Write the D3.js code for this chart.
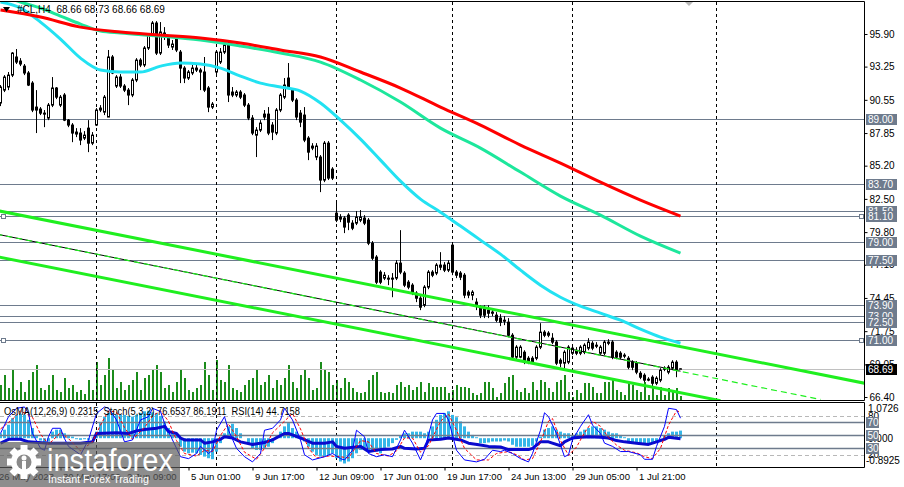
<!DOCTYPE html>
<html>
<head>
<meta charset="utf-8">
<script src="https://cdn.jsdelivr.net/npm/d3@7"></script>
<style>
  body { margin: 0; background: #fff; }
  svg { display: block; font-family: 'Liberation Sans', Arial, sans-serif; }
</style>
</head>
<body>
<svg id="chart" width="904" height="487"></svg>
<script>
// ---- price bars (#CL, H4) ----
const opens = [
  90.29, 91.34, 91.59, 92.56, 94.03, 93.70, 93.29, 92.73, 91.91, 89.96,
  89.80, 89.47, 89.07, 90.12, 91.51, 90.12, 90.94, 88.90, 88.50, 87.77,
  87.85, 87.44, 88.25, 87.03, 88.50, 89.88, 89.55, 89.15, 94.03, 91.67,
  92.40, 91.67, 91.34, 90.94, 92.16, 93.78, 93.38, 94.76, 95.81, 96.79,
  94.35, 95.98, 95.57, 94.84, 95.57, 94.43, 93.13, 92.32, 92.73, 93.13,
  92.97, 92.81, 91.51, 89.96, 92.81, 93.62, 94.43, 95.00, 91.18, 90.94,
  91.18, 90.94, 90.12, 89.07, 87.68, 88.09, 89.39, 89.39, 88.50, 87.85,
  89.72, 90.77, 92.32, 91.34, 90.53, 89.47, 89.31, 87.44, 86.79, 85.90,
  85.90, 84.03, 87.03, 84.92, 81.34, 81.02, 80.94, 81.18, 80.53, 80.53,
  80.77, 80.94, 80.77, 78.90, 77.77, 76.55, 76.06, 76.06, 76.06, 76.06,
  77.28, 76.47, 75.73, 75.49, 74.84, 74.43, 73.86, 75.33, 76.55, 76.47,
  77.12, 77.12, 76.71, 78.74, 76.55, 76.47, 76.30, 74.92, 74.68, 74.11,
  73.62, 73.62, 73.46, 73.30, 73.05, 72.81, 72.64, 72.48, 71.42, 69.64,
  69.64, 70.04, 69.55, 69.55, 69.55, 70.45, 71.67, 71.42, 71.18, 70.86,
  69.39, 69.15, 69.23, 69.96, 70.20, 69.96, 70.04, 70.37, 70.77, 70.61,
  69.96, 69.96, 70.86, 70.86, 70.04, 69.96, 69.80, 69.55, 69.23, 69.15,
  68.33, 68.17, 67.85, 68.01, 67.52, 67.77, 68.74, 68.42, 68.74, 69.23,
  68.66
];
const highs = [
  91.75, 92.56, 92.81, 94.43, 94.68, 93.94, 93.46, 92.89, 92.07, 91.34,
  89.96, 89.72, 90.29, 92.40, 91.59, 90.94, 91.10, 88.99, 88.66, 88.25,
  88.25, 88.01, 88.90, 87.93, 89.88, 90.12, 90.94, 94.60, 94.19, 92.56,
  92.64, 91.83, 91.51, 92.32, 93.94, 93.94, 94.92, 95.98, 96.95, 96.95,
  96.87, 96.46, 95.81, 95.41, 95.73, 94.60, 93.29, 92.97, 93.38, 93.38,
  93.13, 94.03, 91.67, 90.37, 94.60, 94.76, 95.41, 95.25, 91.59, 91.34,
  91.34, 91.10, 90.29, 89.31, 88.33, 88.90, 89.72, 89.96, 88.74, 89.88,
  91.10, 92.32, 93.54, 91.51, 90.69, 89.72, 89.96, 87.60, 87.03, 87.03,
  86.06, 87.20, 87.20, 85.08, 82.40, 81.26, 81.10, 81.34, 80.77, 81.51,
  81.59, 81.18, 80.94, 79.07, 77.93, 76.71, 76.55, 76.30, 76.47, 77.52,
  79.96, 76.63, 75.90, 75.65, 75.00, 74.60, 75.49, 76.71, 76.71, 77.28,
  78.17, 77.36, 77.52, 78.90, 76.71, 76.63, 76.47, 75.08, 75.08, 74.43,
  73.86, 73.86, 73.86, 73.62, 73.30, 73.13, 72.97, 72.81, 71.59, 70.61,
  70.61, 70.20, 69.72, 69.72, 70.61, 72.40, 71.83, 71.75, 71.59, 71.02,
  69.55, 70.20, 70.61, 70.53, 70.45, 70.61, 70.77, 71.18, 70.94, 70.86,
  70.61, 71.02, 71.10, 71.02, 70.20, 70.12, 69.96, 69.72, 69.39, 69.31,
  68.50, 68.33, 68.01, 68.17, 68.09, 68.74, 68.90, 68.99, 69.39, 69.39,
  68.73
];
const lows = [
  90.04, 91.18, 91.34, 92.40, 93.46, 93.29, 92.56, 91.67, 89.55, 87.85,
  89.31, 88.33, 88.90, 89.96, 90.61, 89.96, 88.82, 88.33, 87.11, 87.52,
  86.87, 87.28, 86.30, 86.87, 88.42, 89.55, 89.31, 89.15, 92.64, 91.51,
  91.51, 91.18, 90.12, 90.77, 91.99, 93.21, 93.21, 94.60, 95.65, 94.19,
  94.19, 95.41, 94.76, 94.60, 94.43, 91.91, 91.91, 92.16, 92.56, 92.81,
  91.34, 91.18, 89.55, 89.80, 92.64, 93.46, 94.27, 90.37, 90.77, 90.77,
  90.61, 89.96, 88.90, 87.68, 85.90, 87.93, 88.90, 87.68, 87.28, 87.68,
  89.55, 90.61, 91.42, 90.37, 88.90, 88.33, 87.11, 85.65, 86.46, 85.65,
  83.05, 83.86, 84.03, 84.03, 80.61, 80.61, 79.72, 79.96, 79.96, 80.37,
  80.61, 80.37, 78.74, 77.52, 75.57, 75.57, 75.90, 75.49, 74.51, 75.90,
  76.38, 75.33, 75.16, 74.68, 74.11, 73.46, 73.70, 75.16, 76.14, 76.30,
  76.71, 76.55, 76.55, 76.30, 76.06, 75.90, 74.43, 74.43, 74.27, 73.46,
  72.81, 72.81, 72.81, 72.97, 72.48, 72.16, 72.24, 71.26, 69.55, 69.39,
  69.55, 69.07, 69.07, 69.15, 69.39, 70.29, 71.26, 71.26, 70.69, 68.99,
  68.82, 68.74, 69.07, 69.80, 69.80, 69.80, 69.88, 70.20, 70.20, 70.37,
  69.80, 69.80, 70.61, 69.47, 69.47, 69.47, 69.55, 68.66, 68.58, 68.25,
  67.85, 67.60, 67.68, 67.28, 67.36, 67.60, 68.50, 68.25, 68.58, 68.01,
  68.66
];
const closes = [
  91.59, 92.40, 92.56, 94.35, 93.62, 93.46, 92.73, 91.75, 89.72, 89.72,
  89.47, 89.39, 90.12, 91.51, 90.77, 90.77, 88.90, 88.50, 87.85, 87.93,
  87.28, 87.68, 87.03, 87.68, 89.72, 89.72, 90.77, 94.03, 92.73, 92.40,
  91.67, 91.34, 90.94, 92.16, 93.78, 93.38, 94.76, 95.81, 96.79, 94.35,
  96.06, 95.81, 95.00, 95.08, 94.60, 93.13, 92.32, 92.81, 93.13, 92.97,
  92.81, 91.34, 89.96, 90.20, 94.43, 94.43, 95.00, 90.94, 90.94, 91.18,
  90.77, 90.12, 89.07, 87.85, 88.09, 88.66, 89.15, 87.85, 87.93, 89.72,
  90.94, 91.75, 91.59, 90.53, 89.15, 88.74, 87.28, 86.30, 86.63, 86.79,
  84.03, 87.03, 84.19, 84.19, 80.77, 80.86, 80.21, 80.61, 80.12, 81.02,
  81.02, 80.53, 78.90, 77.68, 75.73, 75.73, 76.30, 75.98, 75.98, 77.28,
  76.55, 75.49, 75.33, 74.84, 74.43, 73.70, 75.33, 76.55, 76.30, 77.12,
  76.95, 76.71, 77.28, 76.55, 76.30, 76.14, 74.68, 74.68, 74.92, 73.86,
  73.05, 73.05, 73.21, 73.21, 72.64, 72.48, 72.56, 71.42, 69.64, 70.45,
  70.45, 69.23, 69.23, 69.23, 70.45, 71.67, 71.42, 71.59, 70.86, 69.15,
  69.15, 70.04, 70.45, 70.37, 69.96, 70.45, 70.61, 70.86, 70.37, 70.53,
  70.45, 70.86, 70.77, 69.64, 69.64, 69.64, 69.72, 68.82, 68.82, 68.42,
  68.01, 67.77, 67.77, 67.52, 67.93, 68.58, 68.66, 68.82, 69.23, 68.58,
  68.69
];
// tick volumes (hundreds)
const volumes = [
  1500, 2500, 1200, 3000, 1000, 1800, 800, 2000, 2800, 3500, 1200, 1000, 1500, 2500, 1000, 800, 2200, 1200, 1500, 800,
  1000, 600, 2000, 1000, 3800, 1500, 2500, 4200, 3000, 1200, 1800, 1000, 1500, 2000, 2800, 1000, 2200, 2500, 3000, 3500,
  2800, 1200, 1500, 800, 1800, 3000, 2200, 1000, 800, 1200, 1500, 3800, 2500, 1000, 4000, 2000, 1800, 3500, 1200, 1000,
  800, 1500, 2000, 2200, 3000, 1500, 1800, 2500, 1200, 2000, 1500, 2200, 3500, 1800, 1200, 2500, 3000, 2200, 1000, 1200,
  3800, 3000, 2800, 1500,
  2000, 1200, 2200, 1800, 1200, 800, 700, 800, 2000, 2500, 2800, 800, 700, 800, 700, 1500, 1800, 1300, 1500, 1000,
  1300, 1800, 800, 1700, 1300, 1300, 1300, 1300, 700, 1000, 1500, 1300, 1300, 1200, 700, 500, 700, 1800, 1800, 1200,
  300, 700, 1700, 2300, 2500, 1000, 800, 1200, 700, 1800, 1000, 2000, 1800, 1200, 800, 1800, 2000, 2500, 800, 300,
  1000, 700, 1700, 1700, 1300, 700, 700, 1800, 1800, 2000, 1000, 800, 500, 1700, 1500, 1000, 800, 1800, 500, 1200,
  500, 1300, 500, 1200, 800, 1200, 400
];

// ---- moving averages (sampled points: bar index, price) ----
const maRedIdx = [0, 10, 20, 30, 40, 50, 60, 70, 80, 90, 100, 110, 120, 130, 140, 150, 160, 170];
const maRed = [97.85, 97.28, 96.46, 96.06, 95.81, 95.57, 95.16, 94.60, 94.03, 92.81, 91.51, 89.96, 88.50, 86.87, 85.41, 83.86, 82.40, 81.10];
const maGreenIdx = [0, 5, 10, 15, 20, 25, 30, 40, 50, 60, 70, 80, 90, 100, 110, 120, 130, 140, 150, 160, 170];
const maGreen = [99.07, 98.50, 98.01, 97.36, 96.71, 96.14, 95.98, 95.73, 95.41, 94.92, 94.35, 93.62, 92.16, 90.37, 88.25, 86.63, 84.68, 82.73, 81.18, 79.47, 78.09];
const maAquaIdx = [0, 5, 10, 15, 20, 25, 30, 35, 40, 45, 50, 55, 60, 65, 70, 75, 80, 85, 90, 95, 100, 105, 110, 115, 120, 125, 130, 135, 140, 145, 150, 155, 160, 165, 170];
const maAqua = [98.50, 98.01, 96.87, 95.49, 93.94, 92.97, 92.81, 92.81, 93.29, 93.54, 93.46, 93.13, 92.48, 91.91, 91.59, 91.26, 90.29, 88.90, 87.36, 85.65, 83.94, 82.48, 81.42, 80.29, 79.15, 78.01, 76.71, 75.49, 74.51, 73.78, 73.21, 72.64, 71.91, 71.26, 70.77];

// ---- channel (bar index, price) ----
const chUpperIdx = [-1, 216], chUpper = [81.56, 67.52];
const chLowerIdx = [-1, 180], chLower = [77.82, 66.10];
const chMidIdx = [-1, 205], chMid = [79.64, 66.20];
const chMidSolidIdx = [-1, 170], chMidSolid = [79.64, 68.50];

// ---- horizontal levels, axis ----
const levels = [89.00, 83.70, 81.50, 81.10, 79.00, 77.50, 73.90, 73.00, 72.50, 71.00];
const markedLevels = [81.10, 71.00];
const lastPrice = 68.69;
const priceTicks = [95.90, 93.25, 90.55, 87.85, 85.20, 82.50, 79.80, 77.15, 74.45, 71.75, 69.05, 66.40];
const separators = [24, 54, 84, 113, 143, 179];
const timeIdx = [-1, 15, 31, 47, 63, 79, 95, 111, 127, 143, 159];
const timeLabels = ['26 May 2023', '30 May 17:00', '2 Jun 09:00', '5 Jun 01:00', '9 Jun 17:00', '12 Jun 09:00',
  '17 Jun 01:00', '19 Jun 17:00', '24 Jun 13:00', '29 Jun 05:00', '1 Jul 21:00'];

// ---- indicator window ----
const osma = [
  0.15, 0.26, 0.41, 0.61, 0.71, 0.74, 0.71, 0.56, 0.31, 0.10, -0.07, -0.15, -0.10, 0.20, 0.26, 0.26, 0.15, 0.10, 0.05, -0.03,
  -0.05, -0.03, -0.05, 0.02, 0.20, 0.46, 0.66, 0.77, 0.77, 0.71, 0.71, 0.71, 0.68, 0.66, 0.71, 0.77, 0.82, 0.84, 0.79, 0.77,
  0.68, 0.51, 0.31, 0.20, 0.10, -0.26, -0.41, -0.46, -0.44, -0.46, -0.51, -0.56, -0.61, -0.64, -0.41, -0.15, 0.15, 0.36, 0.44, 0.31,
  0.15, 0.00, -0.15, -0.31, -0.36, -0.36, -0.31, -0.26, -0.15, 0.05, 0.20, 0.36, 0.46, 0.31, 0.20, 0.05, -0.10, -0.26, -0.41, -0.51,
  -0.56, -0.56, -0.51, -0.46, -0.61, -0.71, -0.77, -0.71, -0.61, -0.46, -0.36, -0.31, -0.36, -0.36, -0.41, -0.46, -0.36, -0.26, -0.15, -0.05,
  0.07, 0.15, 0.15, 0.20, 0.20, 0.20, 0.15, 0.20, 0.36, 0.56, 0.71, 0.77, 0.82, 0.71, 0.64, 0.51, 0.36, 0.20, 0.10, 0.03,
  -0.15, -0.15, -0.13, -0.10, -0.10, -0.10, -0.07, -0.10, -0.20, -0.26, -0.26, -0.26, -0.26, -0.23, -0.10, 0.05, 0.26, 0.31, 0.36, 0.26,
  0.20, 0.15, 0.15, 0.10, 0.15, 0.20, 0.26, 0.31, 0.36, 0.36, 0.31, 0.26, 0.20, 0.15, 0.15, 0.10, 0.03, -0.15, -0.15, -0.15,
  -0.15, -0.15, -0.15, -0.15, -0.10, 0.01, 0.07, 0.15, 0.20, 0.20, 0.2315
];
const stochIdx = [0, 2, 4, 6, 7, 8, 10, 11, 12, 13, 15, 16, 17, 20, 22, 24, 26, 27, 29, 31, 33, 35, 37, 38, 40, 41, 43, 45, 47, 49,
  50, 52, 53, 54, 56, 57, 59, 61, 63, 65, 66, 68, 70, 71, 73, 75, 76, 78, 81, 83, 85, 86, 88, 89, 91, 92, 94, 96, 98, 100,
  101, 103, 105, 106, 108, 109, 111, 112, 114, 116, 119, 121, 123, 125, 126, 128, 130, 132, 133, 135, 136, 137, 139, 141, 142, 143, 145, 147, 148, 150,
  151, 153, 155, 157, 160, 161, 163, 164, 166, 167, 169, 170];
const stochMain = [53, 79, 92, 94, 84, 53, 30, 27, 48, 61, 61, 45, 33, 20, 43, 84, 94, 92, 74, 40, 43, 74, 79, 92, 87, 69, 43, 17, 14, 22,
  33, 22, 27, 58, 79, 58, 30, 17, 9, 22, 58, 61, 74, 92, 74, 43, 20, 12, 17, 22, 14, 12, 27, 58, 48, 22, 17, 20, 17, 43,
  58, 38, 12, 27, 74, 84, 84, 74, 27, 12, 9, 13, 27, 25, 27, 22, 14, 9, 22, 58, 85, 79, 53, 17, 20, 43, 64, 82, 66, 53,
  38, 33, 25, 25, 20, 13, 13, 33, 64, 92, 90, 76.65];
const signalIdx = [0, 3, 5, 8, 10, 12, 14, 15, 17, 20, 23, 25, 27, 29, 31, 33, 36, 38, 40, 42, 44, 46, 49, 51, 53, 55, 57, 59, 61, 64,
  66, 68, 71, 73, 75, 77, 79, 82, 85, 87, 90, 92, 94, 97, 99, 101, 103, 105, 107, 110, 112, 114, 116, 119, 122, 124, 127, 129, 131, 133,
  135, 137, 138, 140, 142, 144, 146, 148, 150, 152, 154, 156, 159, 161, 163, 165, 167, 169, 170];
const stochSignal = [60, 75, 88, 78, 52, 36, 48, 55, 45, 26, 40, 66, 88, 86, 62, 44, 62, 80, 88, 72, 42, 22, 18, 27, 25, 50, 68, 48, 24, 13,
  30, 54, 72, 84, 60, 30, 15, 18, 17, 15, 42, 40, 22, 18, 26, 46, 46, 24, 34, 72, 83, 58, 30, 12, 12, 22, 25, 20, 12, 14,
  40, 72, 76, 42, 19, 32, 54, 72, 64, 47, 35, 27, 23, 17, 14, 30, 66, 88, 86.19];
const rsiIdx = [0, 2, 5, 7, 12, 20, 23, 24, 29, 32, 34, 36, 39, 41, 42, 44, 45, 46, 50, 51, 53, 55, 56, 58, 60, 63, 66, 68, 71, 72,
  75, 78, 81, 83, 84, 86, 90, 92, 95, 98, 100, 101, 104, 106, 107, 110, 112, 115, 117, 120, 122, 125, 127, 132, 133, 135, 137, 140, 141, 143,
  145, 147, 150, 152, 154, 156, 159, 162, 164, 166, 167, 170];
const rsi = [38, 44, 44, 40, 38, 38, 40, 53, 54, 53, 57, 59, 61, 64, 56, 53, 46, 43, 43, 38, 40, 44, 48, 46, 40, 36, 39, 43, 53, 53,
  46, 38, 38, 40, 33, 30, 33, 25, 28, 29, 33, 30, 29, 30, 43, 44, 46, 43, 38, 35, 33, 32, 28, 28, 30, 40, 40, 34, 40, 46,
  47, 48, 47, 46, 42, 40, 38, 36, 40, 44, 47, 44.72];
const indLevels = [70, 50, 30];
const indDashed = [80, 20];

// ---- scales ----
const svg = d3.select('#chart');
const x = d3.scaleLinear().domain([0, 1]).range([0.5, 4.5]);
const y = d3.scaleLinear().domain([66.40, 95.90]).range([397, 34]);
const yVol = d3.scaleLinear().domain([0, 5000]).range([400, 350]);
const yInd = d3.scaleLinear().domain([0, 100]).range([467.7, 403.1]);
const yOsma = d3.scaleLinear().domain([-0.8925, 1.0726]).range([467.5, 403]);
const LEVEL_GRAY = '#6e7b8d';

const defs = svg.append('defs');
defs.append('clipPath').attr('id', 'clipMain').append('rect').attr('x', 0).attr('y', 2).attr('width', 864).attr('height', 398);
defs.append('clipPath').attr('id', 'clipInd').append('rect').attr('x', 0).attr('y', 403).attr('width', 864).attr('height', 64);

svg.append('rect').attr('width', 904).attr('height', 487).attr('fill', '#fff');

// ================= main window =================
const gMain = svg.append('g').attr('clip-path', 'url(#clipMain)');

// volumes
gMain.append('g').selectAll('rect').data(volumes).join('rect')
  .attr('x', (d, i) => x(i) - 0.5).attr('width', 2)
  .attr('y', d => yVol(d)).attr('height', d => 400 - yVol(d))
  .attr('fill', '#1b8c1b');

// horizontal levels
gMain.append('g').selectAll('line').data(levels).join('line')
  .attr('x1', 0).attr('x2', 864)
  .attr('y1', d => Math.round(y(d)) + 0.5).attr('y2', d => Math.round(y(d)) + 0.5)
  .attr('stroke', LEVEL_GRAY).attr('stroke-width', 1);

// bid line
gMain.append('line').attr('x1', 0).attr('x2', 864)
  .attr('y1', Math.round(y(lastPrice)) + 0.5).attr('y2', Math.round(y(lastPrice)) + 0.5)
  .attr('stroke', '#c0c0c0');

// period separators
gMain.append('g').selectAll('line').data(separators).join('line')
  .attr('x1', d => x(d)).attr('x2', d => x(d)).attr('y1', 2).attr('y2', 400)
  .attr('stroke', '#000').attr('stroke-dasharray', '3,3');

// candles
const bars = closes.map((c, i) => ({ i, o: opens[i], h: highs[i], l: lows[i], c }));
const gBars = gMain.append('g');
gBars.selectAll('line').data(bars).join('line')
  .attr('x1', d => x(d.i)).attr('x2', d => x(d.i))
  .attr('y1', d => y(d.h)).attr('y2', d => y(d.l))
  .attr('stroke', '#000');
gBars.selectAll('rect').data(bars).join('rect')
  .attr('x', d => x(d.i) - 1).attr('width', 2)
  .attr('y', d => y(Math.max(d.o, d.c)))
  .attr('height', d => Math.max(0.01, Math.abs(y(d.o) - y(d.c))))
  .attr('fill', d => d.c >= d.o ? '#fff' : '#000')
  .attr('stroke', '#000');

// channel
const line2 = (idx, vals) => d3.line().x(d => x(d[0])).y(d => y(d[1]))(idx.map((k, j) => [k, vals[j]]));
gMain.append('path').attr('d', line2(chUpperIdx, chUpper)).attr('fill', 'none').attr('stroke', '#1fef1f').attr('stroke-width', 3);
gMain.append('path').attr('d', line2(chLowerIdx, chLower)).attr('fill', 'none').attr('stroke', '#1fef1f').attr('stroke-width', 3);
gMain.append('path').attr('d', line2(chMidSolidIdx, chMidSolid)).attr('fill', 'none').attr('stroke', '#000').attr('stroke-width', 1);
gMain.append('path').attr('d', line2(chMidIdx, chMid)).attr('fill', 'none').attr('stroke', '#1fef1f').attr('stroke-width', 1.2)
  .attr('stroke-dasharray', '6,4');

// moving averages
const maLine = d3.line().x(d => x(d[0])).y(d => y(d[1])).curve(d3.curveMonotoneX);
const drawMA = (idx, vals, color) => gMain.append('path')
  .attr('d', maLine(idx.map((k, j) => [k, vals[j]])))
  .attr('fill', 'none').attr('stroke', color).attr('stroke-width', 3);
drawMA(maAquaIdx, maAqua, '#22e2f2');
drawMA(maGreenIdx, maGreen, '#1de79c');
drawMA(maRedIdx, maRed, '#ff0000');

// squares of selected levels
markedLevels.forEach(p => {
  [1, 859].forEach(px => {
    gMain.append('rect').attr('x', px + 0.5).attr('y', Math.round(y(p)) - 2 + 0.5)
      .attr('width', 4).attr('height', 4).attr('fill', '#fff').attr('stroke', LEVEL_GRAY);
  });
});

// top markers & title
svg.append('path').attr('d', 'M685,2 L693,2 L689,6 Z').attr('fill', '#b8b8b8');
svg.append('path').attr('d', 'M3,7 L10,7 L6.5,12 Z').attr('fill', '#000');
svg.append('text').attr('x', 17).attr('y', 13).attr('font-size', 10).attr('fill', '#000')
  .attr('xml:space', 'preserve')
  .text('#CL,H4  68.66 68.73 68.66 68.69');

// window frames
const frame = svg.append('g').attr('stroke', '#000').attr('fill', 'none');
frame.append('path').attr('d', 'M0,1.5 H864.5 V400.5 H0');
frame.append('path').attr('d', 'M0,402.5 H864.5 V467.5 H0');

// price axis
const gPrice = svg.append('g').attr('transform', 'translate(864.5,0)')
  .call(d3.axisRight(y).tickValues(priceTicks).tickSize(3).tickPadding(2).tickFormat(d3.format('.2f')));
gPrice.select('.domain').remove();
gPrice.selectAll('text').attr('font-size', 10).attr('font-family', 'Liberation Sans, Arial, sans-serif').attr('fill', '#000');

// level labels
const gLab = svg.append('g');
levels.forEach(p => {
  const cy = Math.round(y(p)) + 0.5;
  gLab.append('rect').attr('x', 866).attr('y', cy - 5.5).attr('width', 31).attr('height', 11).attr('fill', LEVEL_GRAY);
  gLab.append('text').attr('x', 868).attr('y', cy + 3.5).attr('font-size', 10).attr('fill', '#fff').text(p.toFixed(2));
});
{
  const cy = Math.round(y(lastPrice)) + 0.5;
  gLab.append('rect').attr('x', 866).attr('y', cy - 5.5).attr('width', 31).attr('height', 11).attr('fill', '#000');
  gLab.append('text').attr('x', 868).attr('y', cy + 3.5).attr('font-size', 10).attr('fill', '#fff').text(lastPrice.toFixed(2));
}

// ================= indicator window =================
const gInd = svg.append('g').attr('clip-path', 'url(#clipInd)');
gInd.append('g').selectAll('line').data(separators).join('line')
  .attr('x1', d => x(d)).attr('x2', d => x(d)).attr('y1', 403).attr('y2', 467)
  .attr('stroke', '#000').attr('stroke-dasharray', '3,3');
gInd.append('g').selectAll('line').data(indDashed).join('line')
  .attr('x1', 0).attr('x2', 864).attr('y1', d => Math.round(yInd(d)) + 0.5).attr('y2', d => Math.round(yInd(d)) + 0.5)
  .attr('stroke', '#b8b8b8').attr('stroke-dasharray', '4,3');

// OsMA histogram
gInd.append('g').selectAll('rect').data(osma).join('rect')
  .attr('x', (d, i) => x(i) - 1.5).attr('width', 3)
  .attr('y', d => Math.min(yOsma(d), yOsma(0)))
  .attr('height', d => Math.abs(yOsma(d) - yOsma(0)))
  .attr('fill', '#35b6e8');

gInd.append('g').selectAll('line').data(indLevels).join('line')
  .attr('x1', 0).attr('x2', 864).attr('y1', d => Math.round(yInd(d)) + 0.5).attr('y2', d => Math.round(yInd(d)) + 0.5)
  .attr('stroke', LEVEL_GRAY).attr('stroke-width', 1.3);

const indLine = d3.line().x(d => x(d[0])).y(d => yInd(d[1]));
gInd.append('path').attr('d', indLine(rsiIdx.map((k, j) => [k, rsi[j]])))
  .attr('fill', 'none').attr('stroke', '#0a0acd').attr('stroke-width', 3).attr('stroke-linejoin', 'round');
gInd.append('path').attr('d', indLine(signalIdx.map((k, j) => [k, stochSignal[j]])))
  .attr('fill', 'none').attr('stroke', '#ff0000').attr('stroke-width', 1).attr('stroke-dasharray', '3,2');
gInd.append('path').attr('d', indLine(stochIdx.map((k, j) => [k, stochMain[j]])))
  .attr('fill', 'none').attr('stroke', '#0000ff').attr('stroke-width', 1);

svg.append('text').attr('x', 4).attr('y', 415).attr('font-size', 10).attr('fill', '#000')
  .attr('xml:space', 'preserve')
  .attr('textLength', 296).attr('lengthAdjust', 'spacingAndGlyphs')
  .text('OsMA(12,26,9) 0.2315  Stoch(5,3,2) 76.6537 86.1911  RSI(14) 44.7158');

// indicator scale labels
const gIndLab = svg.append('g').attr('font-size', 10);
gIndLab.append('text').attr('x', 868).attr('y', yInd(80) + 3.5).text('80');
gIndLab.append('text').attr('x', 868).attr('y', yInd(20) + 3.5).text('20');
gIndLab.append('text').attr('x', 868).attr('y', yOsma(0) + 3.5).text('0.000');
indLevels.forEach(v => {
  const cy = Math.round(yInd(v)) + 0.5;
  gIndLab.append('rect').attr('x', 866).attr('y', cy - 5.5).attr('width', 13).attr('height', 11).attr('fill', LEVEL_GRAY);
  gIndLab.append('text').attr('x', 867.5).attr('y', cy + 3.5).attr('fill', '#fff').text(v);
});
gIndLab.append('text').attr('x', 868).attr('y', 412).text('1.0726');
gIndLab.append('text').attr('x', 866).attr('y', 464).text('-0.8925');

// time axis
const gTime = svg.append('g').attr('transform', 'translate(0,467.5)')
  .call(d3.axisBottom(x).tickValues(timeIdx).tickSize(3).tickFormat((d, i) => timeLabels[i]));
gTime.select('.domain').remove();
gTime.selectAll('text').attr('text-anchor', 'start').attr('x', 2).attr('y', 6).attr('dy', '0.71em')
  .attr('font-size', 9.5).attr('font-family', 'Liberation Sans, Arial, sans-serif').attr('fill', '#000');

// ================= watermark =================
const wm = svg.append('g');
wm.append('rect').attr('x', 0).attr('y', 442).attr('width', 180).attr('height', 45)
  .attr('fill', '#5c5c5c').attr('fill-opacity', 0.7);
const gear = wm.append('g').attr('transform', 'translate(24,462)').attr('fill', '#fff');
d3.range(8).forEach(k => {
  gear.append('rect').attr('x', -3.5).attr('y', -17).attr('width', 7).attr('height', 8)
    .attr('transform', `rotate(${k * 45})`);
});
gear.append('circle').attr('r', 13);
gear.append('circle').attr('r', 7.5).attr('fill', '#8a8a8a');
gear.append('circle').attr('cy', -4).attr('r', 2.5);
gear.append('rect').attr('x', -2).attr('y', -1).attr('width', 4).attr('height', 14);
wm.append('text').attr('x', 47).attr('y', 471).attr('font-size', 31).attr('fill', '#fff')
  .attr('textLength', 126).attr('lengthAdjust', 'spacingAndGlyphs').text('instaforex');
wm.append('text').attr('x', 48).attr('y', 483).attr('font-size', 11).attr('fill', '#fff')
  .attr('textLength', 101).attr('lengthAdjust', 'spacingAndGlyphs').text('Instant Forex Trading');
</script>
</body>
</html>
